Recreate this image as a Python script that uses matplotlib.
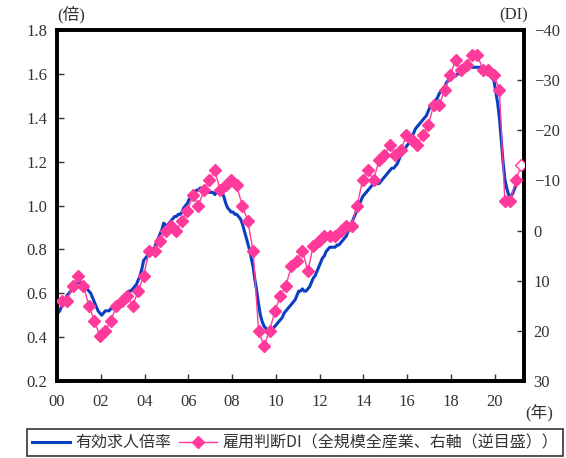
import matplotlib
matplotlib.use("Agg")
import matplotlib.pyplot as plt
import numpy as np

# ---------------- data ----------------
ratio_start_year = 2000
# 有効求人倍率 (monthly, Jan 2000 - Jan 2021)
ratio_2000 = [0.51, 0.52, 0.54, 0.56, 0.57, 0.59, 0.60, 0.61, 0.62, 0.63, 0.64, 0.65]
ratio_2001 = [0.65, 0.65, 0.64, 0.63, 0.62, 0.61, 0.60, 0.58, 0.56, 0.54, 0.52, 0.51]
ratio_2002 = [0.50, 0.51, 0.52, 0.52, 0.52, 0.53, 0.53, 0.54, 0.55, 0.55, 0.56, 0.57]
ratio_2003 = [0.58, 0.59, 0.60, 0.61, 0.61, 0.62, 0.63, 0.64, 0.66, 0.68, 0.71, 0.75]
ratio_2004 = [0.76, 0.77, 0.78, 0.79, 0.80, 0.81, 0.83, 0.85, 0.87, 0.89, 0.92, 0.91]
ratio_2005 = [0.91, 0.92, 0.93, 0.94, 0.95, 0.95, 0.96, 0.96, 0.97, 0.99, 1.00, 1.01]
ratio_2006 = [1.03, 1.04, 1.05, 1.06, 1.07, 1.07, 1.08, 1.08, 1.07, 1.07, 1.06, 1.06]
ratio_2007 = [1.06, 1.06, 1.05, 1.06, 1.07, 1.07, 1.06, 1.04, 1.01, 0.99, 0.98, 0.97]
ratio_2008 = [0.97, 0.96, 0.96, 0.95, 0.94, 0.92, 0.89, 0.86, 0.83, 0.80, 0.76, 0.72]
ratio_2009 = [0.66, 0.61, 0.55, 0.50, 0.47, 0.45, 0.44, 0.43, 0.43, 0.44, 0.44, 0.45]
ratio_2010 = [0.46, 0.47, 0.48, 0.49, 0.51, 0.52, 0.53, 0.54, 0.55, 0.56, 0.57, 0.59]
ratio_2011 = [0.61, 0.61, 0.62, 0.61, 0.61, 0.62, 0.63, 0.65, 0.67, 0.68, 0.70, 0.72]
ratio_2012 = [0.74, 0.76, 0.77, 0.79, 0.80, 0.81, 0.81, 0.81, 0.81, 0.82, 0.82, 0.83]
ratio_2013 = [0.84, 0.85, 0.86, 0.88, 0.90, 0.92, 0.94, 0.96, 0.98, 1.00, 1.02, 1.04]
ratio_2014 = [1.05, 1.06, 1.07, 1.08, 1.09, 1.10, 1.10, 1.10, 1.10, 1.11, 1.12, 1.13]
ratio_2015 = [1.14, 1.15, 1.16, 1.17, 1.17, 1.18, 1.19, 1.21, 1.23, 1.24, 1.25, 1.27]
ratio_2016 = [1.28, 1.29, 1.31, 1.33, 1.35, 1.36, 1.37, 1.38, 1.39, 1.40, 1.41, 1.43]
ratio_2017 = [1.45, 1.46, 1.47, 1.48, 1.49, 1.51, 1.52, 1.53, 1.54, 1.56, 1.57, 1.59]
ratio_2018 = [1.59, 1.59, 1.59, 1.60, 1.60, 1.61, 1.62, 1.63, 1.63, 1.63, 1.64, 1.63]
ratio_2019 = [1.63, 1.63, 1.63, 1.63, 1.63, 1.62, 1.61, 1.60, 1.60, 1.59, 1.58, 1.57]
ratio_2020 = [1.52, 1.47, 1.40, 1.30, 1.20, 1.12, 1.08, 1.05, 1.04, 1.05, 1.07, 1.09]
ratio_2021 = [1.10]

# 雇用判断DI (quarterly: Mar, Jun, Sep, Dec), 2000Q1 - 2021Q1 (last = forecast)
di_start_year = 2000
di_values = [
    14, 14, 11, 9,      # 2000
    11, 15, 18, 21,     # 2001
    20, 18, 15, 14,     # 2002
    13, 15, 12, 9,      # 2003
    4, 4, 2, 0,         # 2004
    -1, 0, -2, -4,      # 2005
    -7, -5, -8, -10,    # 2006
    -12, -8, -9, -10,   # 2007
    -9, -5, -2, 4,      # 2008
    20, 23, 20, 16,     # 2009
    13, 11, 7, 6,       # 2010
    4, 8, 3, 2,         # 2011
    1, 1, 1, 0,         # 2012
    -1, -1, -5, -10,    # 2013
    -12, -10, -14, -15, # 2014
    -17, -15, -16, -19, # 2015
    -18, -17, -19, -21, # 2016
    -25, -25, -28, -31, # 2017
    -34, -32, -33, -35, # 2018
    -35, -32, -32, -31, # 2019
    -28, -6, -6, -10,   # 2020
    -13,                # 2021 (forecast)
]
di_forecast_count = 1

xtick_years = list(range(2000, 2021, 2))
xtick_labels = ["00", "02", "04", "06", "08", "10", "12", "14", "16", "18", "20"]
left_ticks = [0.2, 0.4, 0.6, 0.8, 1.0, 1.2, 1.4, 1.6, 1.8]
right_ticks = [-40, -30, -20, -10, 0, 10, 20, 30]

label_ratio = "有効求人倍率"
label_di = "雇用判断DI（全規模全産業、右軸（逆目盛））"

# ---------------- build series ----------------
ratio = (ratio_2000 + ratio_2001 + ratio_2002 + ratio_2003 + ratio_2004 + ratio_2005 +
         ratio_2006 + ratio_2007 + ratio_2008 + ratio_2009 + ratio_2010 + ratio_2011 +
         ratio_2012 + ratio_2013 + ratio_2014 + ratio_2015 + ratio_2016 + ratio_2017 +
         ratio_2018 + ratio_2019 + ratio_2020 + ratio_2021)
ratio_x = [ratio_start_year + (i + 0.5) / 12 for i in range(len(ratio))]
di_x = [di_start_year + (3 * i + 2.5) / 12 for i in range(len(di_values))]

# ---------------- plot ----------------
serif = ["Liberation Serif", "Noto Sans CJK JP"]
cjk = ["Noto Sans CJK JP", "DejaVu Sans"]
plt.rcParams["font.family"] = serif
plt.rcParams["axes.unicode_minus"] = True

BLUE = "#0A3FC4"
PINK = "#FF3A9A"
TXT = "#333333"

fig = plt.figure(figsize=(5.66, 4.58), dpi=100)
ax = fig.add_axes([0.1007, 0.168, 0.825, 0.7665])
ax2 = ax.twinx()

l1, = ax.plot(ratio_x, ratio, color=BLUE, lw=2.2, label=label_ratio, zorder=3)

n_act = len(di_values) - di_forecast_count
l2, = ax2.plot(di_x, di_values, color=PINK, lw=1.0, marker="D", markersize=6.2,
               markerfacecolor=PINK, markeredgecolor=PINK, markevery=list(range(n_act)),
               label=label_di, zorder=4)
ax2.plot(di_x[n_act:], di_values[n_act:], ls="none", marker="D", markersize=6.2,
         markerfacecolor="white", markeredgecolor=PINK, markeredgewidth=1.0, zorder=5)

ax.set_xlim(2000, 2021.33)
ax.set_ylim(0.2, 1.8)
ax2.set_ylim(30, -40)

ax.set_xticks(xtick_years)
ax.set_xticklabels(xtick_labels)
ax.set_yticks(left_ticks)
ax.set_yticklabels([f"{v:.1f}" for v in left_ticks])
ax2.set_yticks(right_ticks)
ax2.set_yticklabels([str(v).replace("-", "\u2212") for v in right_ticks])

for a in (ax, ax2):
    for s in a.spines.values():
        s.set_linewidth(2.6)
        s.set_color("black")
ax.tick_params(axis="both", direction="in", length=5, width=1.0, labelsize=12,
               colors=TXT, pad=7)
ax.tick_params(axis="x", pad=9)
ax2.tick_params(axis="y", direction="in", length=5, width=1.0, labelsize=12,
                colors=TXT, pad=7)
for a in (ax, ax2):
    for t in a.get_xticklines() + a.get_yticklines():
        t.set_color("black")

fig.text(57 / 566, 1 - 15 / 458, "(倍)", ha="left", va="center", fontsize=12,
         family=serif, color=TXT)
fig.text(528 / 566, 1 - 15 / 458, "(DI)", ha="right", va="center", fontsize=12,
         family=serif, color=TXT)
fig.text(553 / 566, 1 - 413 / 458, "(年)", ha="right", va="center", fontsize=12,
         family=serif, color=TXT)

leg = fig.legend(handles=[l1, l2], labels=[label_ratio, label_di], ncol=2,
                 loc="lower left", bbox_to_anchor=(27 / 566, 1 - 456 / 458),
                 prop={"family": cjk, "size": 11.5}, frameon=True, fancybox=False,
                 edgecolor="black", handlelength=2.4, handletextpad=0.3,
                 columnspacing=0.5, borderpad=0.3, borderaxespad=0.0)
leg.get_frame().set_linewidth(1.2)
for t in leg.get_texts():
    t.set_color(TXT)

fig.savefig("out.png", dpi=100)
